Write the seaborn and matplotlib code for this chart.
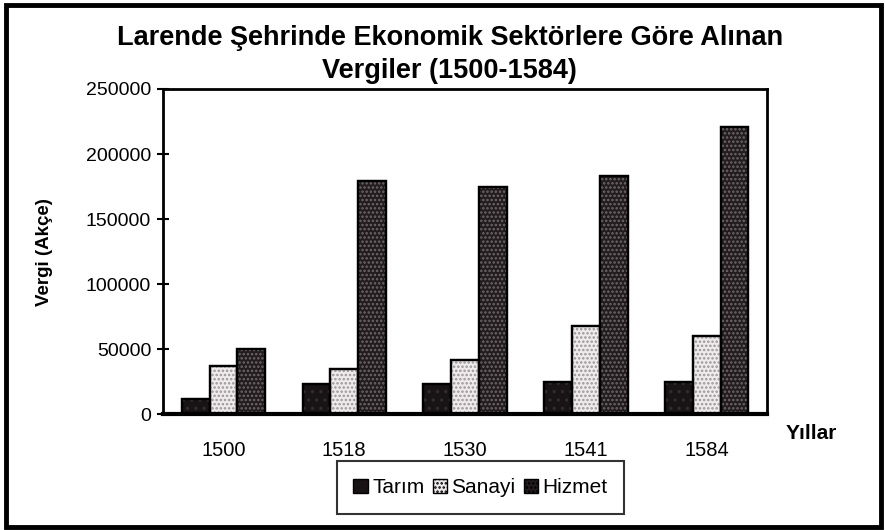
import numpy as np
import pandas as pd
import matplotlib
matplotlib.use("Agg")
import matplotlib.pyplot as plt
from matplotlib.patches import Rectangle
import seaborn as sns

# ================= DATA =================
years = ["1500", "1518", "1530", "1541", "1584"]
sectors = ["Tarım", "Sanayi", "Hizmet"]
tarim = [12000, 23000, 23500, 25000, 25000]
sanayi = [37000, 35000, 42000, 67500, 60000]
hizmet = [50000, 179500, 175000, 183500, 221000]
yticks = [0, 50000, 100000, 150000, 200000, 250000]

df = pd.DataFrame({
    "Yil": years * 3,
    "Sektor": [s for s in sectors for _ in years],
    "Vergi": tarim + sanayi + hizmet,
})

# ================= STYLE =================
sns.set_style("white")
plt.rcParams["font.family"] = ["Liberation Sans", "DejaVu Sans"]
plt.rcParams["text.color"] = "black"
plt.rcParams["axes.labelcolor"] = "black"
plt.rcParams["xtick.color"] = "black"
plt.rcParams["ytick.color"] = "black"
plt.rcParams["hatch.linewidth"] = 1.2

colors = {"Tarım": "#191214", "Sanayi": "#efebec", "Hizmet": "#231b1d"}
hatch_col = {"Tarım": "#332c2e", "Sanayi": "#9a9696", "Hizmet": "#6e6869"}

fig = plt.figure(figsize=(8.85, 5.30), dpi=100)
ax = fig.add_axes([0.1842, 0.2183, 0.6825, 0.6138])

sns.barplot(
    data=df, x="Yil", y="Vergi", hue="Sektor",
    palette=colors, edgecolor="black", linewidth=1.6,
    width=0.69, gap=0, ax=ax, legend=False
)

# stipple texture on top of the bars
for cont, s in zip(ax.containers, sectors):
    for p in cont:
        ax.add_patch(Rectangle(
            (p.get_x(), 0), p.get_width(), p.get_height(),
            facecolor="none", edgecolor=hatch_col[s], lw=0,
            hatch="...." if s != "Tarım" else "..", zorder=p.get_zorder() + 0.1
        ))
        ax.add_patch(Rectangle(
            (p.get_x(), 0), p.get_width(), p.get_height(),
            facecolor="none", edgecolor="black", lw=1.6,
            zorder=p.get_zorder() + 0.2
        ))

ax.set_ylim(0, 250000)
ax.set_xlim(-0.5, 4.5)
ax.set_yticks(yticks)
ax.set_yticklabels([str(v) for v in yticks], fontsize=14)
ax.set_xticks(range(len(years)))
ax.set_xticklabels(years, fontsize=14.5)
ax.set_xticks(np.arange(-0.5, 5, 1), minor=True)
ax.tick_params(axis="x", which="major", length=0, pad=19)
ax.tick_params(axis="x", which="minor", direction="inout", length=9, width=1.5)
ax.tick_params(axis="y", direction="inout", length=9, width=1.5, pad=4, left=True)

for side in ["left", "top", "right"]:
    ax.spines[side].set_linewidth(2.0)
    ax.spines[side].set_color("black")
ax.spines["bottom"].set_linewidth(3.0)
ax.spines["bottom"].set_color("black")

ax.set_xlabel("")
ax.set_ylabel("Vergi (Akçe)", fontsize=13.5, fontweight="bold", labelpad=24)

fig.text(0.508, 0.928, "Larende Şehrinde Ekonomik Sektörlere Göre Alınan",
         ha="center", va="center", fontsize=19.5, fontweight="bold")
fig.text(0.508, 0.866, "Vergiler (1500-1584)",
         ha="center", va="center", fontsize=19.5, fontweight="bold")
fig.text(0.917, 0.183, "Yıllar", ha="center", va="center",
         fontsize=15, fontweight="bold")

handles = [Rectangle((0, 0), 1, 1, facecolor=colors[s], edgecolor="black",
                     hatch="...." if s != "Tarım" else None) for s in sectors]
leg = fig.legend(handles, sectors, loc="center", bbox_to_anchor=(0.543, 0.080),
                 ncol=3, fontsize=15, frameon=True, fancybox=False,
                 handlelength=0.7, handleheight=0.7, handletextpad=0.2,
                 columnspacing=0.4, borderpad=0.8, borderaxespad=0)
leg.get_frame().set_edgecolor("black")
leg.get_frame().set_linewidth(1.5)

# outer border of the figure
fig.patches.append(Rectangle((0.007, 0.006), 0.988, 0.984, transform=fig.transFigure,
                             fill=False, edgecolor="black", lw=3.5))

plt.savefig("out.png", dpi=100)
